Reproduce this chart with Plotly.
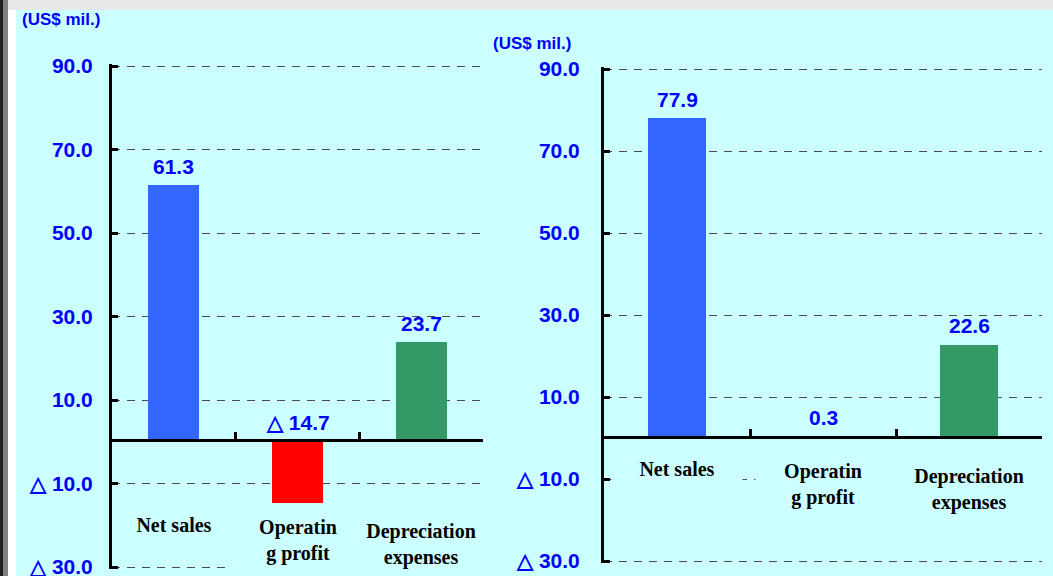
import plotly.graph_objects as go

# Chart data
categories = ["Net sales", "Operating profit", "Depreciation expenses"]
category_labels = ["Net sales", "Operatin<br>g profit", "Depreciation<br>expenses"]
left_values = [61.3, -14.7, 23.7]
right_values = [77.9, 0.3, 22.6]
bar_colors = ["#3366ff", "#ff0000", "#339966"]
y_tickvals = [90, 70, 50, 30, 10, -10, -30]
y_ticktext = ["90.0", "70.0", "50.0", "30.0", "10.0", "△ 10.0", "△ 30.0"]
unit_label = "(US$ mil.)"

W, H = 1053, 576
BG = "#ccffff"
Y_MIN, Y_MAX = -30, 90
Y_PAD = 0.4  # a hair of extra range so the end gridlines still get drawn

BLUE_FONT = dict(family="Liberation Sans, Arial, sans-serif", size=21, color="#0000ff", weight="bold")
UNIT_FONT = dict(family="Liberation Sans, Arial, sans-serif", size=17, color="#0000ff", weight="bold")
CAT_FONT = dict(family="Liberation Serif, Times New Roman, serif", size=20, color="black", weight="bold")


def fmt(v):
    # negative numbers shown with a triangle, Japanese style
    return f"△ {abs(v):.1f}" if v < 0 else f"{v:.1f}"


def px_x(p):
    return p / W


def px_y(p):
    return 1 - p / H


# panel geometry in screen pixels: axis left/right, pixel row of y=90 and y=-30
panels = [
    dict(x0=112, x1=483, top=66, bottom=567, values=left_values,
         bar_width=0.41, standoff=12,
         label_y=[-19.9, -23.5, -24.5], label_w=[120, 138, 124], label_h=[30, 56, 56]),
    dict(x0=604, x1=1042, top=69, bottom=561, values=right_values,
         bar_width=0.40, standoff=17,
         label_y=[-7.6, -11.3, -12.4], label_w=[130, 134, 160], label_h=[30, 56, 56]),
]

fig = go.Figure()
annotations = []
layout = {}

for i, p in enumerate(panels):
    sfx = "" if i == 0 else str(i + 1)
    xa, ya = "x" + sfx, "y" + sfx
    ppu = (p["bottom"] - p["top"]) / (Y_MAX - Y_MIN)
    ydom = [px_y(p["bottom"] + Y_PAD * ppu), px_y(p["top"] - Y_PAD * ppu)]
    zero_px = p["top"] + Y_MAX * ppu

    fig.add_trace(
        go.Bar(
            x=categories,
            y=p["values"],
            marker=dict(color=bar_colors, line=dict(width=0)),
            width=p["bar_width"],
            xaxis=xa,
            yaxis=ya,
            showlegend=False,
            hoverinfo="skip",
        )
    )
    # category axis line sits on y = 0 (line is drawn below its position, so nudge up)
    layout["xaxis" + sfx] = dict(
        domain=[px_x(p["x0"]), px_x(p["x1"])], anchor="free", position=px_y(zero_px) + 1.5 / H,
        type="category", range=[-0.5, 2.5], showline=True, linecolor="black", linewidth=3,
        ticks="inside", tickson="boundaries", ticklen=7, tickwidth=3, tickcolor="black",
        showticklabels=False, showgrid=False, zeroline=False, automargin=False,
    )
    layout["yaxis" + sfx] = dict(
        domain=ydom, anchor=xa, range=[Y_MIN - Y_PAD, Y_MAX + Y_PAD], showline=True,
        linecolor="black", linewidth=3, ticks="inside", ticklen=6, tickwidth=3,
        tickcolor="black", tickvals=y_tickvals, ticktext=y_ticktext, tickfont=BLUE_FONT,
        ticklabelstandoff=p["standoff"], ticklabeloverflow="allow", showgrid=True,
        gridcolor="#4a4a4a", gridwidth=1, griddash="8px,7px", zeroline=False,
        automargin=False,
    )
    # value labels above the bars (or above the zero line for negatives)
    for cat, v in zip(categories, p["values"]):
        annotations.append(dict(
            x=cat, y=max(v, 0), xref=xa, yref=ya, text=fmt(v), showarrow=False,
            yanchor="bottom", yshift=6, font=BLUE_FONT,
        ))
    # category names, boxed in background colour (they hide the grid behind them)
    for cat, lab, ly, lw, lh in zip(categories, category_labels, p["label_y"], p["label_w"], p["label_h"]):
        annotations.append(dict(
            x=cat, y=ly, xref=xa, yref=ya, text=lab, showarrow=False,
            yanchor="middle", width=lw, height=lh, bgcolor=BG, borderpad=0,
            font=CAT_FONT,
        ))

# unit captions
annotations.append(dict(x=px_x(20), y=px_y(20), xref="paper", yref="paper", text=unit_label,
                        xanchor="left", yanchor="middle", showarrow=False, font=UNIT_FONT))
annotations.append(dict(x=px_x(491), y=px_y(44), xref="paper", yref="paper", text=unit_label,
                        xanchor="left", yanchor="middle", showarrow=False, font=UNIT_FONT))

# window frame bits: dark left edge, white strip, grey top strip
shapes = [
    dict(type="rect", xref="paper", yref="paper", x0=0, x1=px_x(3), y0=0, y1=1,
         fillcolor="#202020", line_width=0),
    dict(type="rect", xref="paper", yref="paper", x0=px_x(3), x1=px_x(8), y0=0, y1=1,
         fillcolor="#808080", line_width=0),
    dict(type="rect", xref="paper", yref="paper", x0=px_x(8), x1=px_x(16), y0=0, y1=px_y(10),
         fillcolor="#ffffff", line_width=0),
    dict(type="rect", xref="paper", yref="paper", x0=px_x(8), x1=1, y0=px_y(10), y1=1,
         fillcolor="#e8e8e8", line_width=0),
]

fig.update_layout(
    width=W,
    height=H,
    margin=dict(l=0, r=0, t=0, b=0, pad=0, autoexpand=False),
    paper_bgcolor=BG,
    plot_bgcolor="rgba(0,0,0,0)",
    annotations=annotations,
    shapes=shapes,
    bargap=0,
    **layout,
)

# drop the browser's default body margin so the figure sits at the window corner
fig.write_html(
    "out.html",
    config={"displayModeBar": False},
    post_script="document.body.style.margin='0';",
)
